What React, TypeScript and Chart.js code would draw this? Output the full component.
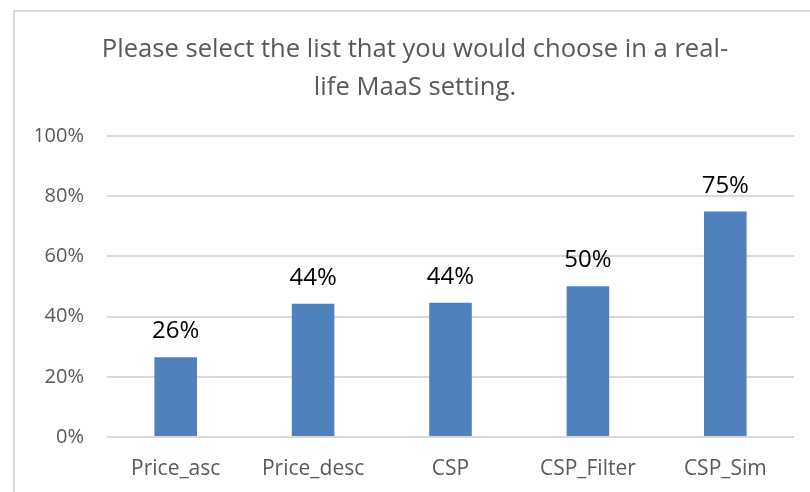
import React, { useEffect, useRef } from "react";
import { Chart, registerables } from "chart.js";

Chart.register(...registerables);

const categories = ["Price_asc", "Price_desc", "CSP", "CSP_Filter", "CSP_Sim"];
const shares = [0.265, 0.443, 0.446, 0.501, 0.749];
const valueLabels = ["26%", "44%", "44%", "50%", "75%"];
const yTickLabels = ["0%", "20%", "40%", "60%", "80%", "100%"];
const titleLines = [
  "Please select the list that you would choose in a real-",
  "life MaaS setting.",
];

const FONT = '"Open Sans", "Noto Sans", sans-serif';

const frameBorder = {
  id: "frameBorder",
  beforeDraw(chart: any) {
    const ctx = chart.ctx;
    ctx.save();
    ctx.fillStyle = "#ffffff";
    ctx.fillRect(0, 0, chart.width, chart.height);
    ctx.strokeStyle = "#d9d9d9";
    ctx.lineWidth = 2;
    ctx.strokeRect(14, 11, 2000, 2000);
    ctx.restore();
  },
};

const valueLabelPlugin = {
  id: "valueLabels",
  afterDatasetsDraw(chart: any) {
    const ctx = chart.ctx;
    const meta = chart.getDatasetMeta(0);
    ctx.save();
    ctx.font = `24px ${FONT}`;
    ctx.fillStyle = "#000000";
    ctx.textAlign = "center";
    ctx.textBaseline = "alphabetic";
    meta.data.forEach((el: any, i: number) => {
      ctx.fillText(valueLabels[i], el.x, el.y - 19);
    });
    ctx.restore();
  },
};

export default function App() {
  const ref = useRef<HTMLCanvasElement | null>(null);

  useEffect(() => {
    document.body.style.margin = "0";
    const canvas = ref.current;
    if (!canvas) return;
    const chart = new Chart(canvas, {
      type: "bar",
      data: {
        labels: categories,
        datasets: [
          {
            data: shares,
            backgroundColor: "#4f81bd",
            borderWidth: 0,
            categoryPercentage: 1,
            barPercentage: 0.31,
          },
        ],
      },
      options: {
        animation: false,
        responsive: false,
        maintainAspectRatio: false,
        layout: { padding: { left: 36, right: 34, top: 31, bottom: 0 } },
        plugins: {
          legend: { display: false },
          tooltip: { enabled: false },
          title: {
            display: true,
            text: titleLines,
            color: "#595959",
            font: { family: FONT, size: 25.6, weight: "normal", lineHeight: 1.485 },
            padding: { top: 0, bottom: 29 },
          },
        },
        scales: {
          x: {
            grid: { display: false },
            border: { display: false },
            ticks: {
              color: "#595959",
              font: { family: FONT, size: 21 },
              padding: 11,
              maxRotation: 0,
              autoSkip: false,
            },
            afterFit(scale: any) {
              scale.height = 55;
            },
          },
          y: {
            min: 0,
            max: 1,
            grid: { color: "#d9d9d9", lineWidth: 2, drawTicks: false },
            border: { display: false },
            ticks: {
              stepSize: 0.2,
              color: "#595959",
              font: { family: FONT, size: 20 },
              padding: 23,
              callback: (_v: any, i: number) => yTickLabels[i],
            },
            afterFit(scale: any) {
              scale.width = 71;
            },
          },
        },
      },
      plugins: [frameBorder, valueLabelPlugin],
    });
    return () => chart.destroy();
  }, []);

  return (
    <div style={{ width: 810, height: 492, overflow: "hidden", position: "relative" }}>
      <canvas ref={ref} width={828} height={492} style={{ display: "block" }} />
    </div>
  );
}
